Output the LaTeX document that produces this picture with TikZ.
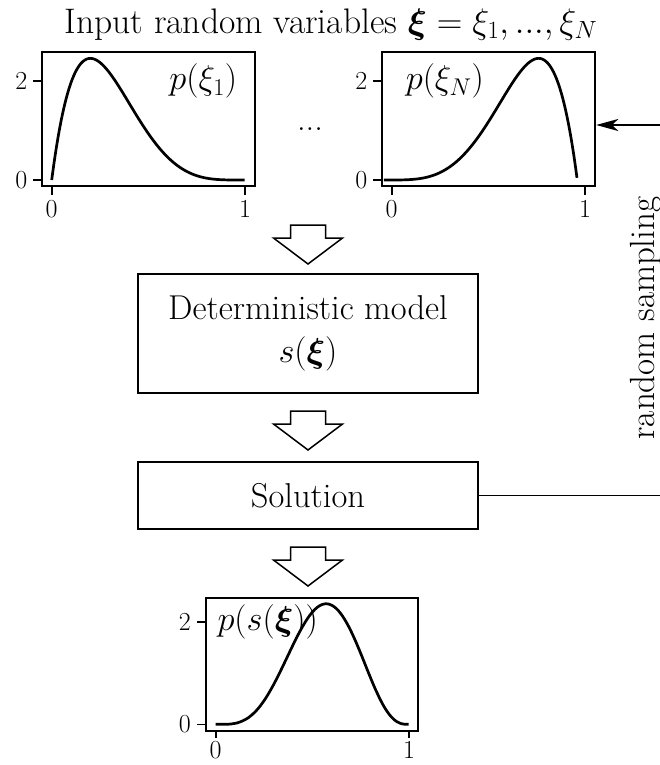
\RequirePackage{fix-cm}
\documentclass[tikz,border=0pt]{standalone}
\usepackage{amsmath,bm}
\usetikzlibrary{arrows.meta, positioning, calc}
\newcommand{\mainsize}{\fontsize{34.5}{43}\selectfont}
\newcommand{\titlesize}{\fontsize{35.5}{43}\selectfont}
\newcommand{\ticksize}{\fontsize{26}{31}\selectfont}
\tikzset{
  every picture/.style={line width=1.6pt},
  plotbox/.style={draw, line width=2pt, minimum width=213pt, minimum height=134pt, inner sep=0pt},
  stagebox/.style={draw, line width=2pt, minimum width=340pt, align=center, font=\mainsize},
  curve/.style={line width=2.7pt, line join=round},
  tickmark/.style={line width=1.6pt},
  ticklabel/.style={font=\ticksize, inner sep=5pt},
  plotlabel/.style={font=\mainsize, inner sep=0pt},
  feedback/.style={line width=1.7pt},
  blockarrow/.pic={
    \draw[line width=1.5pt, fill=white] (-17.5,0) -- (17.5,0) -- (17.5,13) -- (34.5,13)
      -- (0,39) -- (-34.5,13) -- (-17.5,13) -- cycle;
  },
}

\begin{document}
\begin{tikzpicture}[x=1pt, y=-1pt]
  \useasboundingbox (0,0) rectangle (660,765);
  \node[plotlabel, font=\titlesize, anchor=base] (title) at (331,33.3) {Input random variables $\bm{\xi}=\xi_1,...,\xi_N$};
  % input densities
  \node[plotbox] (plotA) at (148.5,119) {};
  \node[plotbox] (plotN) at (488.7,119) {};
  \node[plotlabel, anchor=base] (dots) at (310,130) {...};
  \begin{scope}[shift={(51.7,180)}, x=193.3pt, y=49.5pt]
    \draw[curve] plot[domain=0:1, samples=100, smooth] (\x, {30*\x*(1-\x)^4});
    \foreach \v in {0,2} \draw[tickmark] (plotA.west |- 0,\v) -- ++(-8pt,0pt) node[left, ticklabel] {\v};
    \foreach \t in {0,1} \draw[tickmark] (\t,0 |- plotA.south) -- ++(0pt,-8pt) node[below, ticklabel] {\t};
  \end{scope}
  \node[plotlabel, anchor=base east] (labA) at (238,90) {$p(\xi_1)$};
  \begin{scope}[shift={(391.7,180)}, x=193.3pt, y=49.5pt]
    \draw[curve] plot[domain=0:1, samples=100, smooth] ({\x-0.04}, {30*\x^4*(1-\x)});
    \foreach \v in {0,2} \draw[tickmark] (plotN.west |- 0,\v) -- ++(-8pt,0pt) node[left, ticklabel] {\v};
    \foreach \t in {0,1} \draw[tickmark] (\t,0 |- plotN.south) -- ++(0pt,-8pt) node[below, ticklabel] {\t};
  \end{scope}
  \node[plotlabel, anchor=base west] (labN) at (405,90) {$p(\xi_N)$};
  % model and solution
  \node[stagebox, minimum height=119pt] (model) at (308,333.8) {Deterministic model\\$s(\bm{\xi})$};
  \node[stagebox, minimum height=67pt] (sol) at (308,495.5) {Solution};
  \pic at (308,225) {blockarrow};
  \pic at (308,411) {blockarrow};
  \pic at (308,547) {blockarrow};
  % output density
  \node[plotbox, minimum width=212.6pt, minimum height=133pt] (plotS) at (312,664.2) {};
  \begin{scope}[shift={(215.7,724.3)}, x=193.3pt, y=51.3pt]
    \draw[curve] plot[domain=0:1, samples=100, smooth] (\x, {280*\x^4*(1-\x)^3});
    \foreach \v in {0,2} \draw[tickmark] (plotS.west |- 0,\v) -- ++(-8pt,0pt) node[left, ticklabel] {\v};
    \foreach \t in {0,1} \draw[tickmark] (\t,0 |- plotS.south) -- ++(0pt,-6pt) node[below, ticklabel, inner sep=3pt] {\t};
  \end{scope}
  \node[plotlabel, anchor=base west] (labS) at (216.7,630) {$p(s(\bm{\xi}))$};
  % sampling loop
  \coordinate (loopin) at (660,125);
  \coordinate (loopout) at (660,495.5);
  \draw[feedback] (sol.east) -- (sol.east -| loopout);
  \draw[feedback, -{Stealth[length=22pt, width=12pt, inset=6pt]}] (loopin) -- (loopin -| plotN.east);
  \node[plotlabel, font=\fontsize{35}{42}\selectfont, rotate=90, anchor=base] (sampling) at (654,318) {random sampling};
\end{tikzpicture}
\end{document}
